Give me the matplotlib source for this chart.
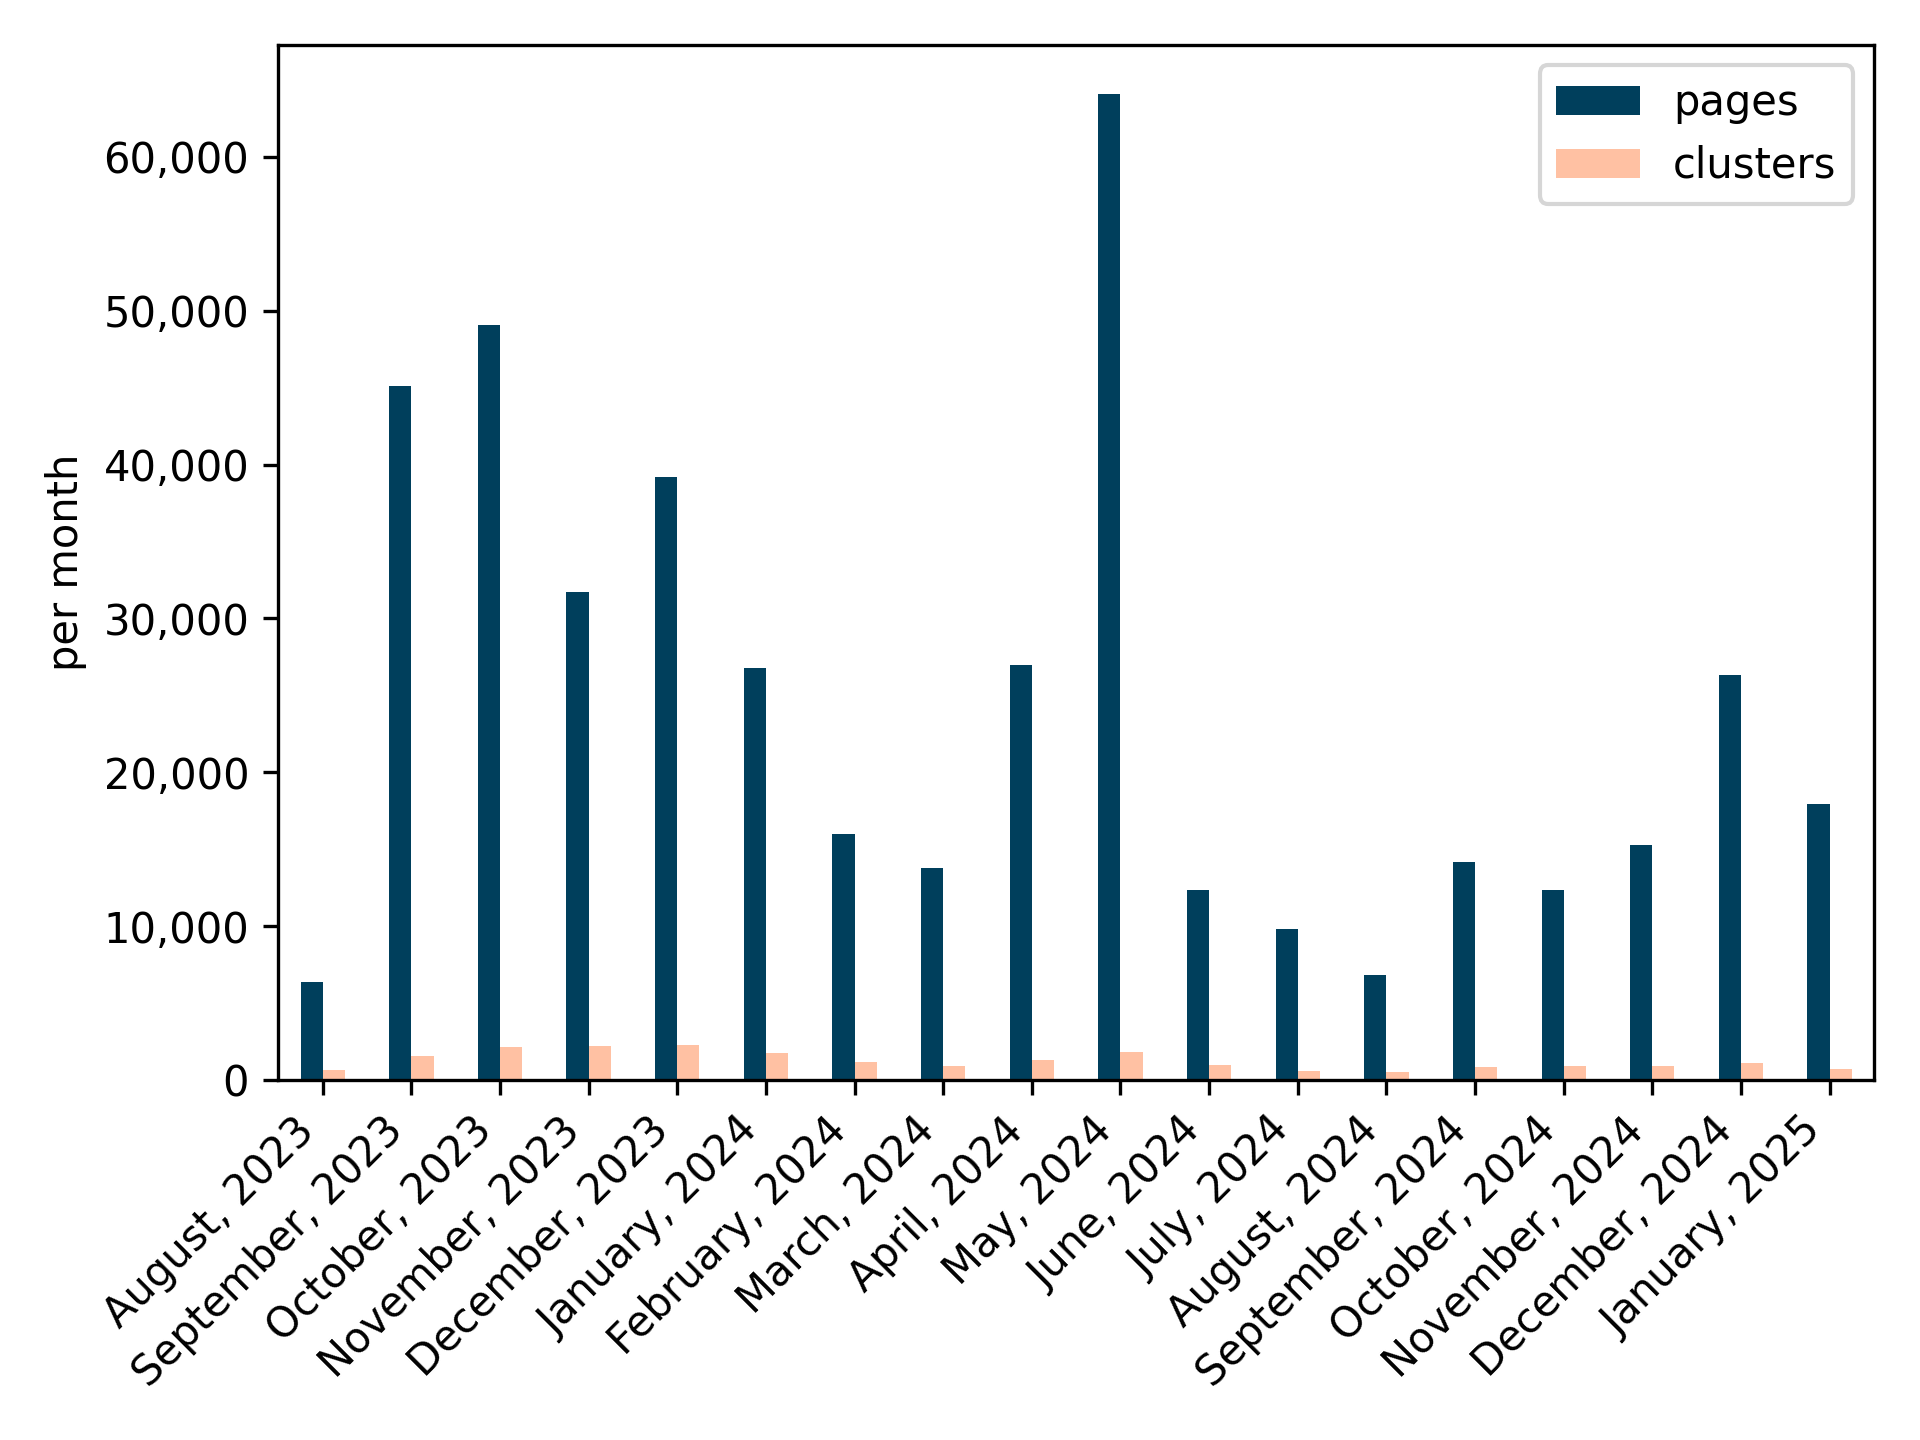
import matplotlib
matplotlib.use("Agg")
import matplotlib.pyplot as plt
import numpy as np
from matplotlib.ticker import FuncFormatter

months = ["August, 2023", "September, 2023", "October, 2023", "November, 2023",
          "December, 2023", "January, 2024", "February, 2024", "March, 2024",
          "April, 2024", "May, 2024", "June, 2024", "July, 2024", "August, 2024",
          "September, 2024", "October, 2024", "November, 2024", "December, 2024",
          "January, 2025"]
pages = [6400, 45100, 49100, 31700, 39200, 26750, 16000, 13750, 26950, 64100,
         12350, 9800, 6850, 14150, 12350, 15300, 26350, 17950]
clusters = [650, 1560, 2150, 2210, 2280, 1760, 1170, 910, 1300, 1820,
            980, 590, 520, 850, 910, 910, 1110, 720]

fig = plt.figure(figsize=(6.4, 4.8), dpi=300)
ax = fig.add_axes([0.145, 0.25, 0.831, 0.719])
x = np.arange(len(months))
w = 0.25
ax.bar(x - w/2, pages, w, color="#003f5c", label="pages")
ax.bar(x + w/2, clusters, w, color="#ffc1a3", label="clusters")
ax.set_xticks(x)
ax.set_xticklabels(months, rotation=45, ha="right", rotation_mode="default")
ax.set_xlim(-0.5, len(months) - 0.5)
ax.set_ylim(0, 67300)
ax.yaxis.set_major_formatter(FuncFormatter(lambda v, p: f"{int(v):,}"))
ax.set_ylabel("per month")
ax.legend(loc="upper right")
fig.savefig("out.png", dpi=300)
